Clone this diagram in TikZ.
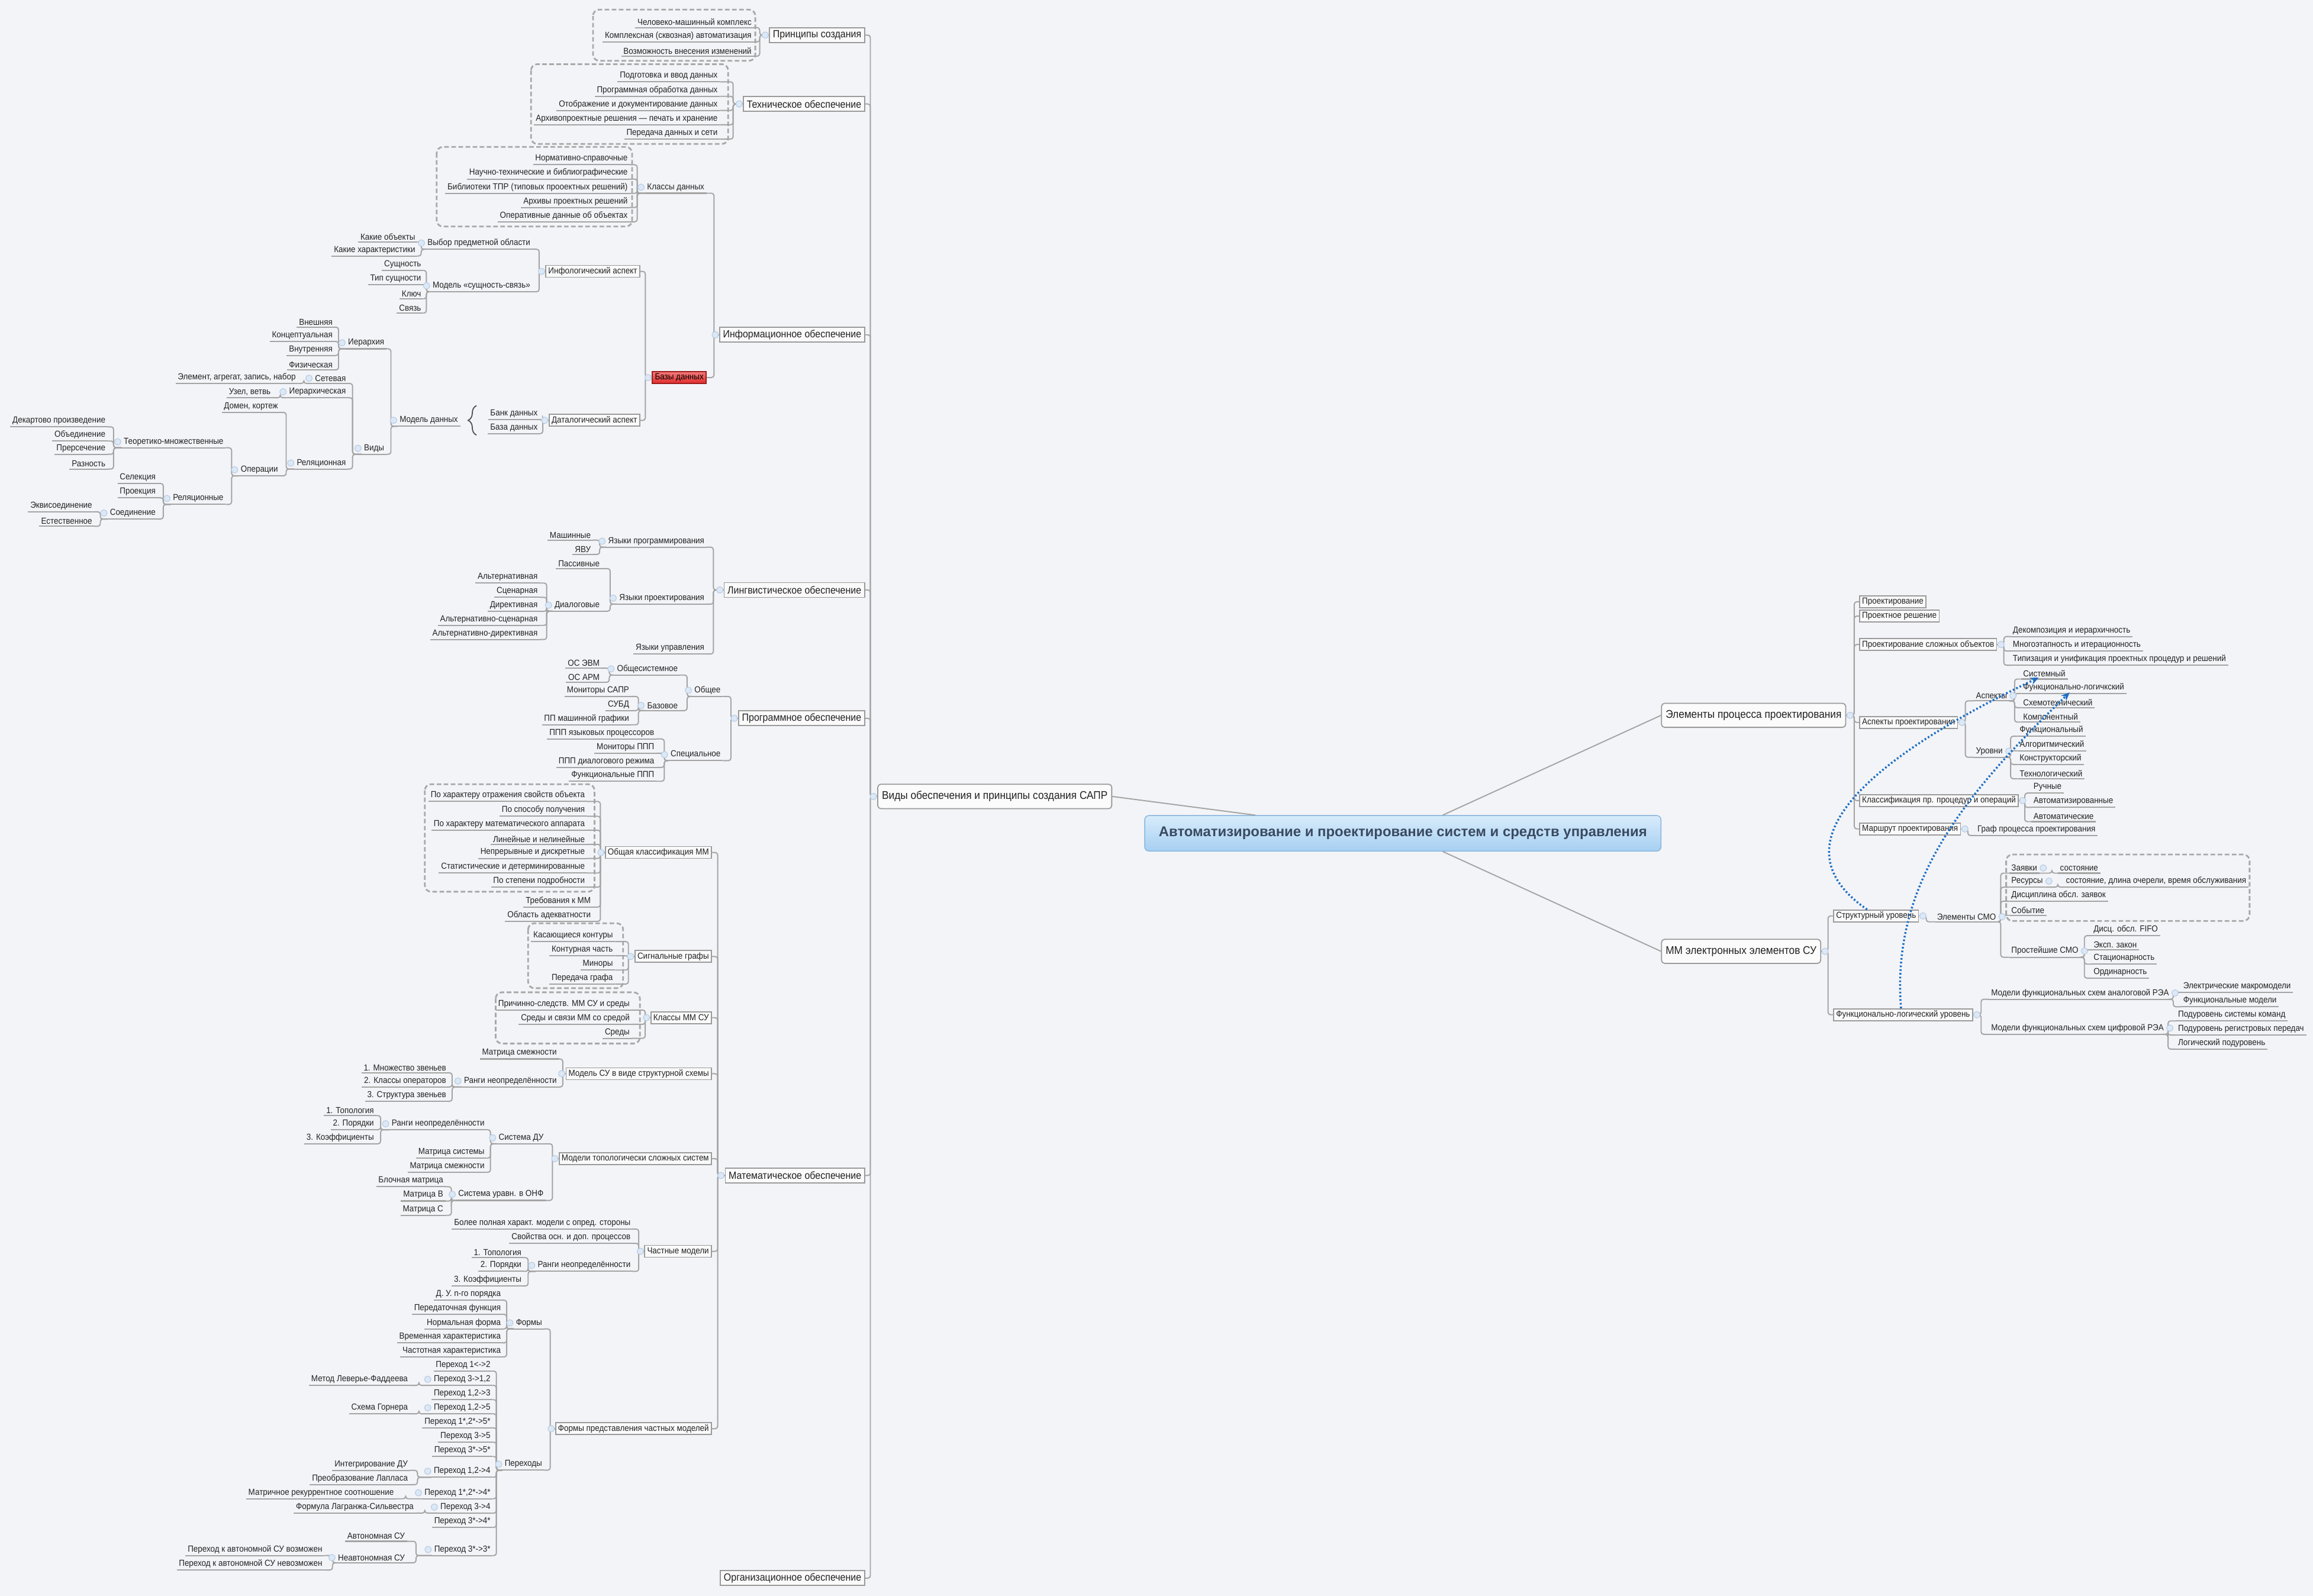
\documentclass[tikz,border=0pt]{standalone}
\usepackage{fontspec}
\setmainfont{Liberation Sans}[FakeStretch=0.91]
\newfontfamily\rootf{Liberation Sans}
\usetikzlibrary{calc,decorations.pathreplacing,arrows.meta}
\definecolor{bgc}{HTML}{F3F4F8}
\definecolor{txt}{HTML}{222222}
\definecolor{lc}{HTML}{A4A4A4}
\definecolor{bc}{HTML}{9A9A9A}
\definecolor{gc}{HTML}{A8A8A8}
\definecolor{kb}{HTML}{DCE8F5}
\definecolor{kd}{HTML}{B5CBE3}
\definecolor{arc}{HTML}{1C6EC4}
\definecolor{rtop}{HTML}{D8ECFB}
\definecolor{rbot}{HTML}{A6CFF2}
\definecolor{rdr}{HTML}{86B3DC}
\definecolor{rtx}{HTML}{3A4A60}
\definecolor{rdt}{HTML}{F47A7A}
\definecolor{rdb}{HTML}{E02A2A}
\newcommand\fA{\fontsize{4.2}{5}\selectfont}
\newcommand\fB{\fontsize{5}{6}\selectfont}
\newcommand\fC{\fontsize{5.4}{6}\selectfont}
\newcommand\fR{\rootf\fontsize{6.8}{8}\selectfont\bfseries}
\tikzset{
 lf/.style={font=\fA, text=txt, inner xsep=0.9pt, inner ysep=0.8pt},
 ul/.style={draw=lc, line width=0.6pt},
 conn/.style={draw=lc, line width=0.55pt, rounded corners=1.2pt},
 bx/.style={draw=bc, fill=white!96!gray, line width=0.5pt, font=\fB, text=txt, inner xsep=1.6pt, inner ysep=0pt, minimum height=0.25cm},
 sbx/.style={bx, font=\fA, minimum height=0.2cm, inner xsep=1.2pt},
 mn/.style={draw=bc, fill=white!97!gray, line width=0.5pt, font=\fC, text=txt, rounded corners=1.5pt, inner xsep=2pt, minimum height=0.37cm},
 knob/.style={fill=kb, draw=kd, line width=0.3pt},
 grp/.style={draw=gc, line width=0.8pt, dash pattern=on 2.2pt off 1.2pt, rounded corners=3pt},
 arr/.style={draw=arc, line width=1pt, dash pattern=on 0.8pt off 1pt, -{Stealth[length=4pt,width=3.5pt]}},
}
\newcommand\mkL[4]{\node[lf,anchor=south east] (#1) at (#2,#3) {#4}; \draw[ul] (#1.south west) -- (#1.south east);}
\newcommand\mkR[4]{\node[lf,anchor=south west] (#1) at (#2,#3) {#4}; \draw[ul] (#1.south west) -- (#1.south east);}
\newcommand\cn[3]{\draw[conn] (#2) -| (#3,0 |- #1) -- (#1);}
\newcommand\chL[6]{\mkL{#1}{#4}{#5}{#6}\cn{#1.south east}{#2}{#3}}
\newcommand\chR[6]{\mkR{#1}{#4}{#5}{#6}\cn{#1.south west}{#2}{#3}}
\newcommand\bchL[6]{\node[sbx,anchor=east] (#1) at (#4,#5) {#6};\cn{#1.east}{#2}{#3}}
\newcommand\bchR[6]{\node[sbx,anchor=west] (#1) at (#4,#5) {#6};\cn{#1.west}{#2}{#3}}
\begin{document}
\begin{tikzpicture}[x=0.024923cm,y=-0.024923cm]
\fill[bgc] (0,0) rectangle (1568,1082);
\useasboundingbox (0,0) rectangle (1568,1082);
% groups
\draw[grp] (402,6.5) rectangle (512,41.2);
\draw[grp] (360,43.5) rectangle (493.6,97.6);
\draw[grp] (296,99.6) rectangle (428.5,153.6);
\draw[grp] (288,531.7) rectangle (403,604.6);
\draw[grp] (358,626) rectangle (422.4,670);
\draw[grp] (336,672.8) rectangle (433.8,707.5);
\draw[grp] (1360,579.4) rectangle (1525,624.4);
% root and main
\node[draw=rdr, top color=rtop, bottom color=rbot, rounded corners=2pt, minimum width=8.72cm, minimum height=0.6cm, font=\fR, text=rtx] (root) at (951,565) {Автоматизирование и проектирование систем и средств управления};
\node[mn,anchor=east] (vidy) at (754,540) {Виды обеспечения и принципы создания САПР};
\node[mn,anchor=west] (elp) at (1126,485) {Элементы процесса проектирования};
\node[mn,anchor=west] (mme) at (1126,645) {ММ электронных элементов СУ};
\draw[conn] ($(root.north)+(-100,0)$) -- (vidy.east);
\draw[conn] ($(root.north)+(27,0)$) -- (elp.west);
\draw[conn] ($(root.south)+(27,0)$) -- (mme.west);
% level 2 left
\foreach \n/\y/\t in {pz/23.8/Принципы создания, te/70.5/Техническое обеспечение, inf/227/Информационное обеспечение, lng/400/Лингвистическое обеспечение, prg/487/Программное обеспечение, mat/797/Математическое обеспечение, org/1070/Организационное обеспечение}{
 \node[bx,anchor=east] (\n) at (586.5,\y) {\t};
 \cn{\n.east}{vidy.west}{590}}
% Принципы
\chL{p1}{pz.west}{515}{511}{18.7}{Человеко-машинный комплекс}
\chL{p2}{pz.west}{515}{511}{28.4}{Комплексная (сквозная) автоматизация}
\chL{p3}{pz.west}{515}{511}{38.1}{Возможность внесения изменений}
% Техническое
\chL{t1}{te.west}{497}{488}{55.5}{Подготовка и ввод данных}
\chL{t2}{te.west}{497}{488}{65.3}{Программная обработка данных}
\chL{t3}{te.west}{497}{488}{74.9}{Отображение и документирование данных}
\chL{t4}{te.west}{497}{488}{84.6}{Архивопроектные решения — печать и хранение}
\chL{t5}{te.west}{497}{488}{94.3}{Передача данных и сети}
% Информационное
\chL{kd}{inf.west}{484}{479}{131}{Классы данных}
\node[sbx,anchor=east,draw=rdb!70!black,top color=rdt,bottom color=rdb,text=black] (bd) at (479,256) {Базы данных};
\cn{bd.east}{inf.west}{484}
\chL{k1}{kd.south west}{432}{427}{111.7}{Нормативно-справочные}
\chL{k2}{kd.south west}{432}{427}{121.4}{Научно-технические и библиографические}
\chL{k3}{kd.south west}{432}{427}{131.1}{Библиотеки ТПР (типовых прооектных решений)}
\chL{k4}{kd.south west}{432}{427}{140.7}{Архивы проектных решений}
\chL{k5}{kd.south west}{432}{427}{150.4}{Оперативные данные об объектах}
\bchL{ia}{bd.west}{437.5}{434}{184}{Инфологический аспект}
\bchL{da}{bd.west}{437.5}{434}{285}{Даталогический аспект}
\chL{vp}{ia.west}{365.5}{361}{169}{Выбор предметной области}
\chL{mss}{ia.west}{365.5}{361}{197.8}{Модель «сущность-связь»}
\chL{ko}{vp.south west}{285.5}{283}{164}{Какие объекты}
\chL{kh}{vp.south west}{285.5}{283}{173.6}{Какие характеристики}
\chL{s1}{mss.south west}{289}{287}{183.3}{Сущность}
\chL{s2}{mss.south west}{289}{287}{193}{Тип сущности}
\chL{s3}{mss.south west}{289}{287}{202.6}{Ключ}
\chL{s4}{mss.south west}{289}{287}{212.3}{Связь}
\chL{bk}{da.west}{368}{366}{284.5}{Банк данных}
\chL{bz}{da.west}{368}{366}{294}{База данных}
\mkL{md}{312}{289}{Модель данных}
\draw[line width=0.5pt,draw=black!70,decorate,decoration={brace,amplitude=4pt}] (323,295) -- (323,275);
\chL{ier}{md.south west}{265}{262}{236.5}{Иерархия}
\chL{vid}{md.south west}{265}{262}{308}{Виды}
\chL{e1}{ier.south west}{229.5}{227}{221.8}{Внешняя}
\chL{e2}{ier.south west}{229.5}{227}{231.5}{Концептуальная}
\chL{e3}{ier.south west}{229.5}{227}{241}{Внутренняя}
\chL{e4}{ier.south west}{229.5}{227}{250.8}{Физическая}
\chL{set}{vid.south west}{239}{236}{260}{Сетевая}
\chL{ierh}{vid.south west}{239}{236}{269.7}{Иерархическая}
\chL{rel}{vid.south west}{239}{236}{318}{Реляционная}
\chL{el}{set.south west}{206}{202}{260}{Элемент, агрегат, запись, набор}
\chL{uv}{ierh.south west}{190}{185}{269.7}{Узел, ветвь}
\chL{dk}{rel.south west}{194}{190}{279.6}{Домен, кортеж}
\chL{op}{rel.south west}{194}{190}{322.6}{Операции}
\chL{tm}{op.south west}{157}{153}{303.6}{Теоретико-множественные}
\chL{rln}{op.south west}{157}{153}{342}{Реляционные}
\chL{d1}{tm.south west}{77}{73}{289.4}{Декартово произведение}
\chL{d2}{tm.south west}{77}{73}{299}{Объединение}
\chL{d3}{tm.south west}{77}{73}{308}{Прерсечение}
\chL{d4}{tm.south west}{77}{73}{318}{Разность}
\chL{r1}{rln.south west}{110.7}{107}{327.8}{Селекция}
\chL{r2}{rln.south west}{110.7}{107}{337.5}{Проекция}
\chL{sj}{rln.south west}{110.7}{107}{351.9}{Соединение}
\chL{j1}{sj.south west}{68}{64}{347}{Эквисоединение}
\chL{j2}{sj.south west}{68}{64}{356.8}{Естественное}
% Лингвистическое
\chL{jp}{lng.west}{483.6}{479}{371}{Языки программирования}
\chL{jpr}{lng.west}{483.6}{479}{409.6}{Языки проектирования}
\chL{ju}{lng.west}{483.6}{479}{443.4}{Языки управления}
\chL{m1}{jp.south west}{406.5}{402}{366.2}{Машинные}
\chL{m2}{jp.south west}{406.5}{402}{375.9}{ЯВУ}
\chL{ps}{jpr.south west}{413.6}{408}{385.5}{Пассивные}
\chL{dlg}{jpr.south west}{413.6}{408}{414.4}{Диалоговые}
\chL{a1}{dlg.south west}{370.6}{366}{395.3}{Альтернативная}
\chL{a2}{dlg.south west}{370.6}{366}{405}{Сценарная}
\chL{a3}{dlg.south west}{370.6}{366}{414.5}{Директивная}
\chL{a4}{dlg.south west}{370.6}{366}{424}{Альтернативно-сценарная}
\chL{a5}{dlg.south west}{370.6}{366}{433.6}{Альтернативно-директивная}
% Программное
\chL{ob}{prg.west}{495.5}{490}{472.2}{Общее}
\chL{sp}{prg.west}{495.5}{490}{515.7}{Специальное}
\chL{os}{ob.south west}{465.8}{461}{457.7}{Общесистемное}
\chL{bs}{ob.south west}{465.8}{461}{481.8}{Базовое}
\chL{o1}{os.south west}{413}{408}{453}{ОС ЭВМ}
\chL{o2}{os.south west}{413}{408}{462.6}{ОС АРМ}
\chL{b1}{bs.south west}{432.8}{428}{472.2}{Мониторы САПР}
\chL{b2}{bs.south west}{432.8}{428}{481.8}{СУБД}
\chL{b3}{bs.south west}{432.8}{428}{491.4}{ПП машинной графики}
\chL{c1}{sp.south west}{450.3}{445}{501}{ППП языковых процессоров}
\chL{c2}{sp.south west}{450.3}{445}{510.7}{Мониторы ППП}
\chL{c3}{sp.south west}{450.3}{445}{520.3}{ППП диалогового режима}
\chL{c4}{sp.south west}{450.3}{445}{529.7}{Функциональные ППП}
% Математическое
\bchL{gk}{mat.west}{486.5}{482.6}{578}{Общая классификация ММ}
\bchL{sg}{mat.west}{486.5}{482.6}{648.5}{Сигнальные графы}
\bchL{kmm}{mat.west}{486.5}{482.6}{690}{Классы ММ СУ}
\bchL{msu}{mat.west}{486.5}{482.6}{728}{Модель СУ в виде структурной схемы}
\bchL{mts}{mat.west}{486.5}{482.6}{785.6}{Модели топологически сложных систем}
\bchL{chm}{mat.west}{486.5}{482.6}{848.4}{Частные модели}
\bchL{fp}{mat.west}{486.5}{482.6}{968.7}{Формы представления частных моделей}
\chL{g1}{gk.west}{407}{398}{543.4}{По характеру отражения свойств объекта}
\chL{g2}{gk.west}{407}{398}{553.4}{По способу получения}
\chL{g3}{gk.west}{407}{398}{562.9}{По характеру математического аппарата}
\chL{g4}{gk.west}{407}{398}{572.5}{Линейные и нелинейные}
\chL{g5}{gk.west}{407}{398}{582}{Непрерывные и дискретные}
\chL{g6}{gk.west}{407}{398}{591.9}{Статистические и детерминированные}
\chL{g7}{gk.west}{407}{398}{601.5}{По степени подробности}
\chL{g8}{gk.west}{407}{402}{615}{Требования к ММ}
\chL{g9}{gk.west}{407}{402}{624.7}{Область адекватности}
\chL{h1}{sg.west}{426}{417}{638.4}{Касающиеся контуры}
\chL{h2}{sg.west}{426}{417}{648}{Контурная часть}
\chL{h3}{sg.west}{426}{417}{657.7}{Миноры}
\chL{h4}{sg.west}{426}{417}{667.2}{Передача графа}
\chL{q1}{kmm.west}{437.4}{428.4}{684.8}{Причинно-следств. ММ СУ и среды}
\chL{q2}{kmm.west}{437.4}{428.4}{694.5}{Среды и связи ММ со средой}
\chL{q3}{kmm.west}{437.4}{428.4}{704}{Среды}
\chL{ms1}{msu.west}{381.5}{379}{718}{Матрица смежности}
\chL{rn1}{msu.west}{381.5}{379}{737}{Ранги неопределённости}
\chL{w1}{rn1.south west}{306.5}{304}{727.4}{1. Множество звеньев}
\chL{w2}{rn1.south west}{306.5}{304}{737}{2. Классы операторов}
\chL{w3}{rn1.south west}{306.5}{304}{746.7}{3. Структура звеньев}
\chL{sdu}{mts.west}{374.5}{370}{775.5}{Система ДУ}
\chL{onf}{mts.west}{374.5}{370}{813.9}{Система уравн. в ОНФ}
\chL{rn2}{sdu.south west}{332.5}{330}{766}{Ранги неопределённости}
\chL{ms2}{sdu.south west}{332.5}{330}{785.2}{Матрица системы}
\chL{ms3}{sdu.south west}{332.5}{330}{794.8}{Матрица смежности}
\chL{y1}{rn2.south west}{258}{255}{756.4}{1. Топология}
\chL{y2}{rn2.south west}{258}{255}{766}{2. Порядки}
\chL{y3}{rn2.south west}{258}{255}{775.5}{3. Коэффициенты}
\chL{n1}{onf.south west}{306}{302}{804.6}{Блочная матрица}
\chL{n2}{onf.south west}{306}{302}{814.3}{Матрица B}
\chL{n3}{onf.south west}{306}{302}{824}{Матрица C}
\chL{x1}{chm.west}{433}{429}{833.3}{Более полная характ. модели с опред. стороны}
\chL{x2}{chm.west}{433}{429}{843}{Свойства осн. и доп. процессов}
\chL{rn3}{chm.west}{433}{429}{862}{Ранги неопределённости}
\chL{z1}{rn3.south west}{358}{355}{852.7}{1. Топология}
\chL{z2}{rn3.south west}{358}{355}{862}{2. Порядки}
\chL{z3}{rn3.south west}{358}{355}{871.9}{3. Коэффициенты}
\chL{fm}{fp.west}{373}{369}{901}{Формы}
\chL{per}{fp.west}{373}{369}{996.8}{Переходы}
\chL{f1}{fm.south west}{343.5}{341}{881.5}{Д. У. n-го порядка}
\chL{f2}{fm.south west}{343.5}{341}{891.1}{Передаточная функция}
\chL{f3}{fm.south west}{343.5}{341}{901}{Нормальная форма}
\chL{f4}{fm.south west}{343.5}{341}{910.5}{Временная характеристика}
\chL{f5}{fm.south west}{343.5}{341}{920}{Частотная характеристика}
\chL{u1}{per.south west}{336.5}{334}{929.6}{Переход 1<->2}
\chL{u2}{per.south west}{336.5}{334}{939.3}{Переход 3->1,2}
\chL{u3}{per.south west}{336.5}{334}{949}{Переход 1,2->3}
\chL{u4}{per.south west}{336.5}{334}{958.6}{Переход 1,2->5}
\chL{u5}{per.south west}{336.5}{334}{968.1}{Переход 1*,2*->5*}
\chL{u6}{per.south west}{336.5}{334}{977.8}{Переход 3->5}
\chL{u7}{per.south west}{336.5}{334}{987.5}{Переход 3*->5*}
\chL{u8}{per.south west}{336.5}{334}{1001.6}{Переход 1,2->4}
\chL{u9}{per.south west}{336.5}{334}{1016.2}{Переход 1*,2*->4*}
\chL{u10}{per.south west}{336.5}{334}{1025.9}{Переход 3->4}
\chL{u11}{per.south west}{336.5}{334}{1035.6}{Переход 3*->4*}
\chL{u12}{per.south west}{336.5}{334}{1054.7}{Переход 3*->3*}
\chL{lf1}{u2.south west}{284}{278}{939.3}{Метод Леверье-Фаддеева}
\chL{gor}{u4.south west}{284}{278}{958.6}{Схема Горнера}
\chL{id}{u8.south west}{283}{278}{996.9}{Интегрирование ДУ}
\chL{pl}{u8.south west}{283}{278}{1006.6}{Преобразование Лапласа}
\chL{mr}{u9.south west}{275}{268.5}{1016.2}{Матричное рекуррентное соотношение}
\chL{ls}{u10.south west}{288}{282}{1025.9}{Формула Лагранжа-Сильвестра}
\chL{au}{u12.south west}{282}{276}{1045}{Автономная СУ}
\chL{nav}{u12.south west}{282}{276}{1059.6}{Неавтономная СУ}
\chL{v1}{nav.south west}{225.4}{220}{1054.7}{Переход к автономной СУ возможен}
\chL{v2}{nav.south west}{225.4}{220}{1064.5}{Переход к автономной СУ невозможен}
% Right: Элементы процесса
\bchR{pr1}{elp.east}{1257}{1260.3}{408}{Проектирование}
\bchR{pr2}{elp.east}{1257}{1260.3}{417.7}{Проектное решение}
\bchR{pso}{elp.east}{1257}{1260.3}{437}{Проектирование сложных объектов}
\bchR{asp}{elp.east}{1257}{1260.3}{489.8}{Аспекты проектирования}
\bchR{kls}{elp.east}{1257}{1260.3}{542.8}{Классификация пр. процедур и операций}
\bchR{mar}{elp.east}{1257}{1260.3}{562}{Маршрут проектирования}
\chR{i1}{pso.east}{1358.4}{1363}{431.6}{Декомпозиция и иерархичность}
\chR{i2}{pso.east}{1358.4}{1363}{441.4}{Многоэтапность и итерационность}
\chR{i3}{pso.east}{1358.4}{1363}{451}{Типизация и унификация проектных процедур и решений}
\chR{as}{asp.east}{1332.3}{1338}{475.2}{Аспекты}
\chR{ur}{asp.east}{1332.3}{1338}{513.4}{Уровни}
\chR{sys}{as.south east}{1365.7}{1370}{460.4}{Системный}
\chR{fl}{as.south east}{1365.7}{1370}{470.2}{Функционально-логичкский}
\chR{sx}{as.south east}{1365.7}{1370}{479.8}{Схемотехнический}
\chR{km}{as.south east}{1365.7}{1370}{489.6}{Компонентный}
\chR{l1}{ur.south east}{1363}{1367.6}{499.2}{Функциональный}
\chR{l2}{ur.south east}{1363}{1367.6}{509}{Алгоритмический}
\chR{l3}{ur.south east}{1363}{1367.6}{518.3}{Конструкторский}
\chR{l4}{ur.south east}{1363}{1367.6}{528}{Технологический}
\chR{kc1}{kls.east}{1372.6}{1377}{537.7}{Ручные}
\chR{kc2}{kls.east}{1372.6}{1377}{547.4}{Автоматизированные}
\chR{kc3}{kls.east}{1372.6}{1377}{557.1}{Автоматические}
\chR{gr}{mar.east}{1334}{1339}{566.5}{Граф процесса проектирования}
% Right: ММ электронных
\bchR{stu}{mme.east}{1239.2}{1242.7}{621}{Структурный уровень}
\bchR{flu}{mme.east}{1239.2}{1242.7}{688}{Функционально-логический уровень}
\chR{smo}{stu.east}{1305.8}{1311.6}{625}{Элементы СМО}
\chR{zv}{smo.south east}{1356.3}{1362}{592}{Заявки}
\chR{rs}{smo.south east}{1356.3}{1362}{601.5}{Ресурсы}
\chR{dis}{smo.south east}{1356.3}{1362}{611}{Дисциплина обсл. заявок}
\chR{sob}{smo.south east}{1356.3}{1362}{620.6}{Событие}
\chR{pst}{smo.south east}{1356.3}{1362}{649}{Простейшие СМО}
\chR{zs}{zv.south east}{1391}{1395}{592}{состояние}
\chR{rss}{rs.south east}{1395}{1399}{601.5}{состояние, длина очерели, время обслуживания}
\chR{ps1}{pst.south east}{1413}{1417.7}{634.4}{Дисц. обсл. FIFO}
\chR{ps2}{pst.south east}{1413}{1417.7}{644}{Эксп. закон}
\chR{ps3}{pst.south east}{1413}{1417.7}{653.7}{Стационарность}
\chR{ps4}{pst.south east}{1413}{1417.7}{663.2}{Ординарность}
\chR{an}{flu.east}{1343}{1348.3}{677.5}{Модели функциональных схем аналоговой РЭА}
\chR{cf}{flu.east}{1343}{1348.3}{701.3}{Модели функциональных схем цифровой РЭА}
\chR{an1}{an.south east}{1473.3}{1478.5}{672.8}{Электрические макромодели}
\chR{an2}{an.south east}{1473.3}{1478.5}{682.6}{Функциональные модели}
\chR{cf1}{cf.south east}{1469.7}{1475}{692.2}{Подуровень системы команд}
\chR{cf2}{cf.south east}{1469.7}{1475}{701.8}{Подуровень регистровых передач}
\chR{cf3}{cf.south east}{1469.7}{1475}{711.3}{Логический подуровень}
% knobs
\foreach \n in {vidy,pz,te,inf,kd,bd,ia,da,vp,mss,md,ier,vid,set,ierh,rel,op,tm,rln,sj,lng,jp,jpr,dlg,prg,ob,os,bs,sp,mat,gk,sg,kmm,msu,rn1,mts,sdu,rn2,onf,chm,rn3,fp,fm,per,u2,u4,u8,u9,u10,u12,nav}
 \draw[knob] ($(\n.west)+(-2.6,0)$) circle (0.055cm);
\foreach \n in {elp,pso,asp,as,ur,kls,mar,mme,stu,smo,zv,rs,pst,flu,an,cf}
 \draw[knob] ($(\n.east)+(2.6,0)$) circle (0.055cm);
% relationship arrows
\draw[arr] ($(stu.north west)+(23,0)$) .. controls (1205,575) and (1255,520) .. ($(sys.south west)+(12,-1)$);
\draw[arr] ($(flu.north west)+(46,0)$) .. controls (1282,600) and (1330,540) .. ($(fl.south west)+(33,-0.7)$);
\end{tikzpicture}
\end{document}
